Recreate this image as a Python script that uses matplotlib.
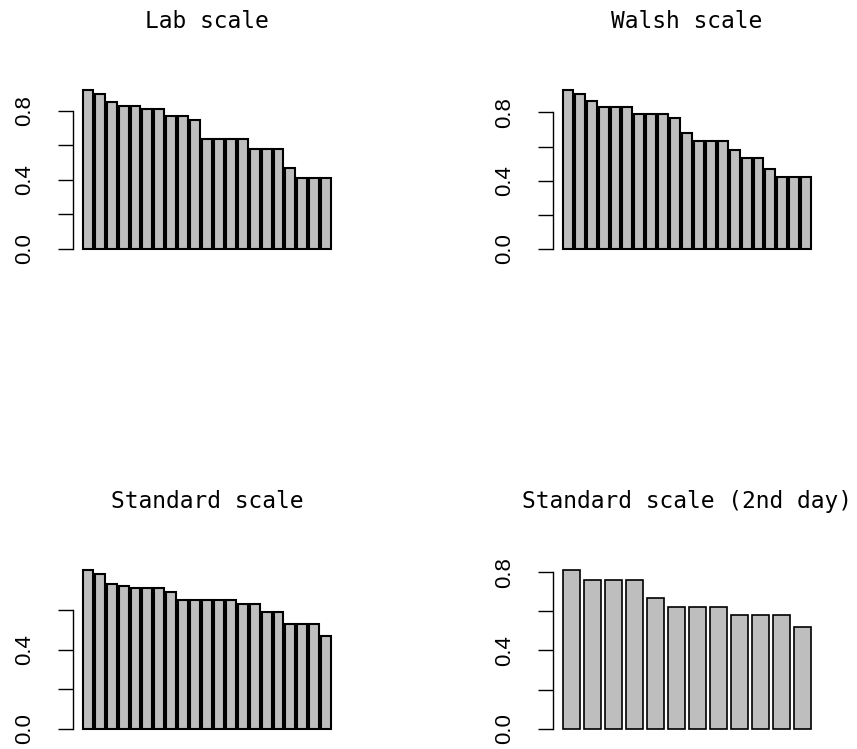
import numpy as np
import matplotlib
matplotlib.use("Agg")
import matplotlib.pyplot as plt

# values (sorted proportions per item)
lab_scale = [0.92, 0.90, 0.85, 0.83, 0.83, 0.81, 0.81, 0.77, 0.77, 0.75, 0.64,
             0.64, 0.64, 0.64, 0.58, 0.58, 0.58, 0.47, 0.41, 0.41, 0.41]
walsh_scale = [0.93, 0.91, 0.87, 0.83, 0.83, 0.83, 0.79, 0.79, 0.79, 0.77, 0.68,
               0.63, 0.63, 0.63, 0.58, 0.53, 0.53, 0.47, 0.42, 0.42, 0.42]
standard_scale = [0.80, 0.78, 0.73, 0.72, 0.71, 0.71, 0.71, 0.69, 0.65, 0.65, 0.65,
                  0.65, 0.65, 0.63, 0.63, 0.59, 0.59, 0.53, 0.53, 0.53, 0.47]
standard_day2 = [0.81, 0.76, 0.76, 0.76, 0.67, 0.62, 0.62, 0.62, 0.58, 0.58, 0.58, 0.52]

titles = ["Lab scale", "Walsh scale", "Standard scale", "Standard scale (2nd day)"]
series = [lab_scale, walsh_scale, standard_scale, standard_day2]
yticks = [[0, 0.2, 0.4, 0.6, 0.8]] * 2 + [[0, 0.2, 0.4, 0.6], [0, 0.2, 0.4, 0.6, 0.8]]

W, H = 857, 749
fig = plt.figure(figsize=(W / 100, H / 100), dpi=100)

# plot regions in pixels (left, top, right, bottom), like R's par(mfrow=c(2,2))
boxes = [(73, 84, 341, 255), (553, 84, 821, 255),
         (73, 564, 341, 735), (553, 564, 821, 735)]

for vals, title, ticks, (l, t, r, b) in zip(series, titles, yticks, boxes):
    ax = fig.add_axes([l / W, 1 - b / H, (r - l) / W, (b - t) / H])
    n = len(vals)
    x = 0.2 + 1.2 * np.arange(n)   # barplot default space = 0.2
    lw = 1.5 if n > 15 else 1.2
    ax.bar(x, vals, width=1.0, align="edge", color="#BEBEBE",
           edgecolor="black", linewidth=lw)

    ext = x[-1] + 1 - x[0]
    ax.set_xlim(x[0] - 0.04 * ext, x[-1] + 1 + 0.04 * ext)
    m = max(vals)
    ax.set_ylim(-0.04 * m, 1.04 * m)

    for s in ["top", "right", "bottom"]:
        ax.spines[s].set_visible(False)
    ax.spines["left"].set_bounds(ticks[0], ticks[-1])
    ax.spines["left"].set_linewidth(1.0)
    ax.set_xticks([])
    ax.set_yticks(ticks)
    ax.set_yticklabels(["%.1f" % v if i % 2 == 0 else "" for i, v in enumerate(ticks)],
                       family="Liberation Sans", fontsize=16)
    ax.tick_params(axis="y", length=11, width=1.0, pad=16, labelrotation=90)
    for lab in ax.get_yticklabels():
        lab.set_verticalalignment("center")

    ax.set_title(title, family="DejaVu Sans Mono", fontsize=16.5, pad=40)

fig.savefig("out.png", dpi=100)
